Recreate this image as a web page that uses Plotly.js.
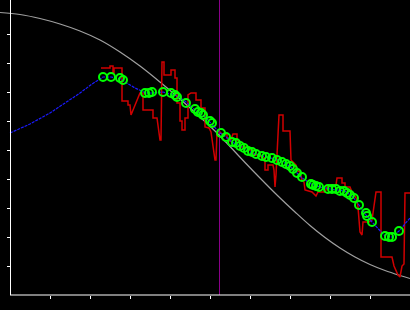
<!DOCTYPE html>
<html>
<head>
<meta charset="utf-8">
<script src="https://cdn.plot.ly/plotly-3.0.1.min.js"></script>
<style>html,body{margin:0;padding:0;background:#000;}#chart{width:410px;height:310px;}</style>
</head>
<body>
<div id="chart"></div>
<script>
// Reference (gray) curve
const refX = [-10,10,30,50,70,90,110,130,150,170,190,205,220,235,250,268,285,300,315,330,345,360,375,390,400];
const refY = [282.5,280.5,276.5,271,264,255,243,229,213,196,178,164,148.5,132.5,117,99,83,69.5,57.5,47,38,30.5,24.5,19.5,16.5];

// Estimate (blue) curve
const estX = [0,20,40,55,70,82,93,101,111,115,125,136,142,153,162,168,176,185,195,201,210,215,222,232,238,245,258,268,275,283,291,301,310,320,335,343,349,356,362,375,382,389,400];
const estY = [162,171,182,192,202,211,218,218,216,213,207,202,202,203,201,199,193,185,178,172,162,159,153,148,144,141,138,135,132,126,118,111,108,106,104,98,90,80,73,59,58,64,77];

// Measurements (red)
const measX = [91,100,100,103,103,104,104,112,112,118,118,120,121,130,133,133,143,143,147,148,150,151,152,154,154,161,161,165,165,167,167,170,170,172,172,175,175,178,178,181,186,186,191,191,195,195,199,201,203,205,206,207,210,212,217,217,220,220,223,227,227,230,230,238,238,243,243,250,252,255,255,258,258,263,264,265,266,267,269,273,273,280,281,286,286,290,292,294,295,302,306,308,315,318,326,327,332,332,335,335,340,342,344,347,348,350,352,353,359,362,366,371,371,382,384,388,390,392,394,395,400];
const measY = [227,227,229,229,222,222,227,227,194,194,190,190,180,202,202,185,185,177,177,170,155,155,233,233,220,220,225,225,217,217,192,192,174,174,165,165,177,177,200,202,202,195,195,187,187,168,167,163,148,135,135,163,163,161,161,157,157,153,161,161,155,153,148,148,145,145,140,140,137,137,125,125,130,130,125,108,120,145,180,180,164,164,135,130,125,123,115,113,105,103,99,103,103,110,110,117,117,112,112,108,108,103,101,95,88,63,60,73,73,75,103,103,38,38,29,20,18,29,31,102,102];

// Tracked positions (green circles)
const trackX = [93,101,110,113,135,139,142,153,161,165,167,176,185,188,191,193,200,202,211,216,222,226,230,234,238,242,246,252,256,262,267,272,276,280,283,287,292,301,303,306,309,318,322,326,330,334,337,340,344,349,356,357,362,375,379,382,389];
const trackY = [218,218,217,215,202,202,203,203,202,200,198,192,186,183,182,180,174,172,162,158,153,152,149,147,144,143,141,139,138,137,135,133,131,129,126,122,118,111,110,109,108,106,106,106,104,104,102,100,97,90,82,79,73,59,58,58,64];

// Current time marker and axis ticks
const nowX = 209.5;
const xTicks = [40,80,120,160,200,240,280,320,360];
const yTicks = [29,58,87,116,145,174,203,232,261];

const traces = [
  {x: refX, y: refY, mode: 'lines', line: {color: '#a0a0a0', width: 1.2, shape: 'spline', smoothing: 1}, hoverinfo: 'skip'},
  {x: measX, y: measY, mode: 'lines', line: {color: '#d00000', width: 1.5}, hoverinfo: 'skip'},
  {x: estX, y: estY, mode: 'lines', line: {color: '#1a1aff', width: 1.2, dash: '3px,1px'}, hoverinfo: 'skip'},
  {x: trackX, y: trackY, mode: 'markers', marker: {symbol: 'circle-open', size: 8, color: '#00ff00', line: {width: 2, color: '#00ff00'}}, hoverinfo: 'skip'}
];

const layout = {
  width: 410, height: 310,
  margin: {l: 0, r: 0, t: 0, b: 15, pad: 0},
  paper_bgcolor: '#000', plot_bgcolor: '#000',
  showlegend: false,
  xaxis: {range: [-10, 400], showgrid: false, zeroline: false, showline: false,
          ticks: 'outside', ticklen: 3, tickwidth: 1, tickcolor: '#fff',
          tickvals: xTicks, showticklabels: false, fixedrange: true},
  yaxis: {range: [0, 295], showgrid: false, zeroline: false, showline: true,
          linecolor: '#fff', linewidth: 1, anchor: 'free', position: 10/410,
          ticks: 'outside', ticklen: 3, tickwidth: 1, tickcolor: '#fff',
          tickvals: yTicks, showticklabels: false, fixedrange: true},
  shapes: [
    {type: 'line', xref: 'x', yref: 'paper', x0: nowX, x1: nowX, y0: 0, y1: 1,
     line: {color: '#8a008a', width: 1}, layer: 'below'},
    {type: 'line', xref: 'paper', yref: 'paper', x0: 10/410, x1: 1, y0: 0, y1: 0,
     line: {color: '#fff', width: 1}, layer: 'above'}
  ]
};

Plotly.newPlot('chart', traces, layout, {staticPlot: true, displayModeBar: false});
</script>
</body>
</html>
